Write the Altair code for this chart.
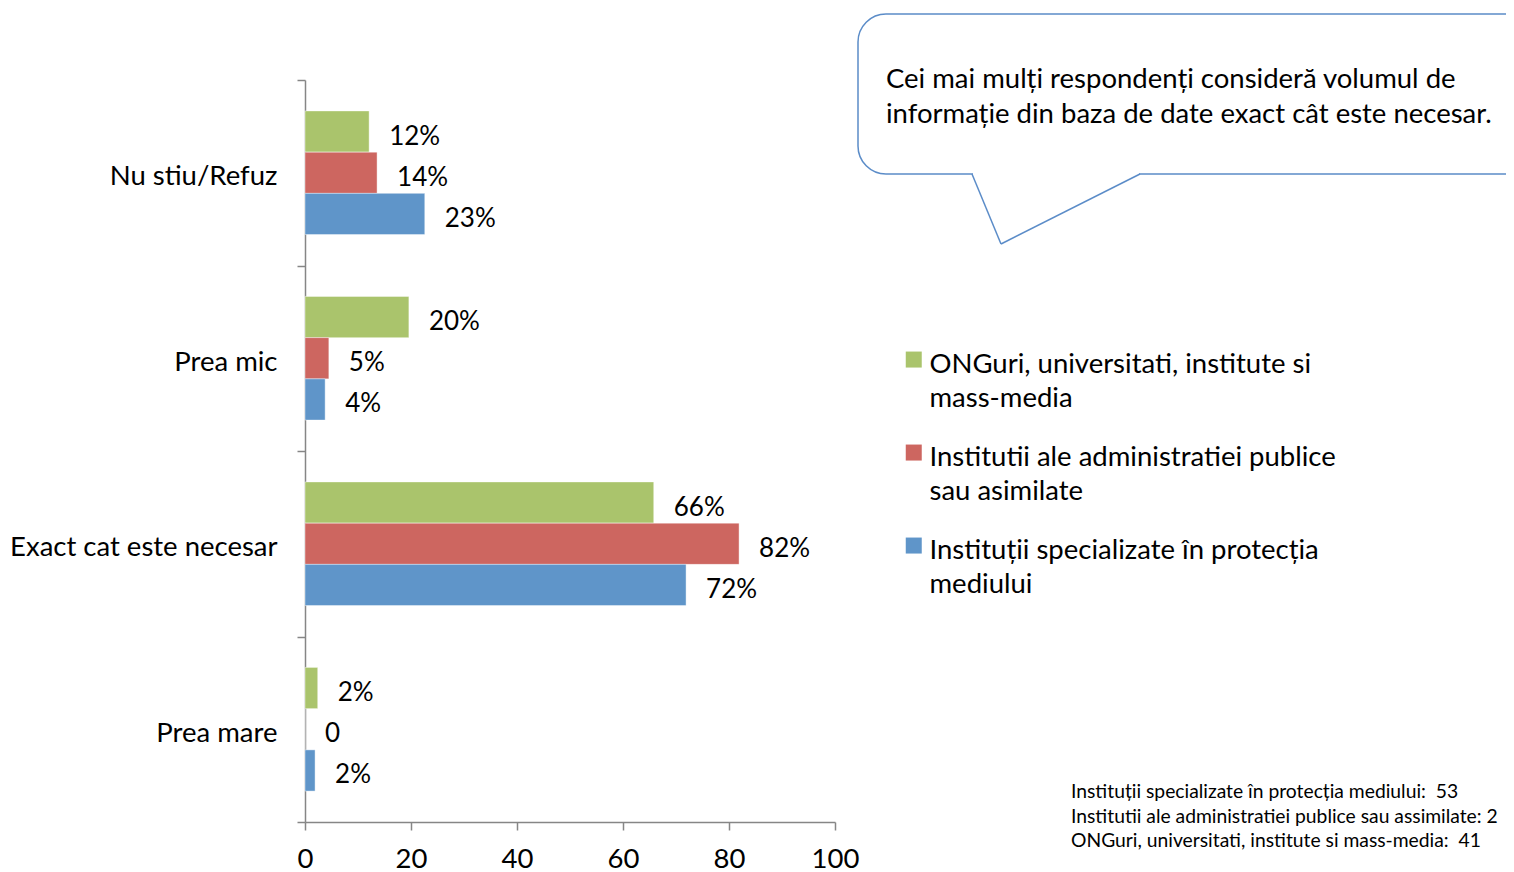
import altair as alt
import pandas as pd

categories = ["Nu stiu/Refuz", "Prea mic", "Exact cat este necesar", "Prea mare"]
series = [
    "ONGuri, universitati, institute si mass-media",
    "Institutii ale administratiei publice sau asimilate",
    "Instituții specializate în protecția mediului",
]
series_lines = [
    ["ONGuri, universitati, institute si", "mass-media"],
    ["Institutii ale administratiei publice", "sau asimilate"],
    ["Instituții specializate în protecția", "mediului"],
]
colors = ["#AAC46C", "#CD6660", "#5F95C9"]

green_vals = [12.1, 19.6, 65.8, 2.4]
red_vals = [13.6, 4.5, 81.9, 0.0]
blue_vals = [22.6, 3.8, 71.9, 1.9]
green_labels = ["12%", "20%", "66%", "2%"]
red_labels = ["14%", "5%", "82%", "0"]
blue_labels = ["23%", "4%", "72%", "2%"]

x_ticks = [0, 20, 40, 60, 80, 100]

callout_lines = [
    "Cei mai mulți respondenți consideră volumul de",
    "informație din baza de date exact cât este necesar.",
]
footnote_lines = [
    "Instituții specializate în protecția mediului:\u00a0 53",
    "Institutii ale administratiei publice sau assimilate: 2",
    "ONGuri, universitati, institute si mass-media:\u00a0 41",
]

FONT = "Lato"
BIG = 27.5
GRAY = "#868686"

rows = []
for s, vals, labs in zip(series, [green_vals, red_vals, blue_vals],
                         [green_labels, red_labels, blue_labels]):
    for c, v, l in zip(categories, vals, labs):
        rows.append({"category": c, "series": s, "value": v, "label": l})
df = pd.DataFrame(rows)

label_expr = " : ".join(
    f"datum.label == '{s}' ? {lines!r}" for s, lines in zip(series, series_lines)
) + " : datum.label"

y_enc = alt.Y("category:N", sort=categories,
              scale=alt.Scale(paddingInner=0, paddingOuter=0),
              axis=alt.Axis(title=None, tickBand="extent", labelFontSize=BIG,
                            labelColor="#000000", labelFont=FONT, labelPadding=20,
                            labelOffset=4, tickSize=8, tickColor=GRAY,
                            domainColor=GRAY, domainWidth=1.5, tickWidth=1.5,
                            labelLimit=400))
yoff = alt.YOffset("series:N", sort=series,
                   scale=alt.Scale(paddingInner=0, paddingOuter=0.75))
x_enc = alt.X("value:Q", scale=alt.Scale(domain=[0, 100], nice=False),
              axis=alt.Axis(title=None, values=x_ticks, labelFontSize=BIG,
                            labelColor="#000000", labelFont=FONT, labelPadding=15,
                            labelFlush=False, tickSize=8, tickColor=GRAY,
                            domainColor=GRAY, domainWidth=1.5, tickWidth=1.5,
                            grid=False))

bars = alt.Chart(df).mark_bar(stroke="#ffffff", strokeWidth=0.6, strokeOpacity=0.7).encode(
    x=x_enc,
    y=y_enc,
    yOffset=yoff,
    color=alt.Color("series:N", sort=series,
                    scale=alt.Scale(domain=series, range=colors),
                    legend=alt.Legend(title=None, orient="none", legendX=595, legendY=257,
                                      symbolType="M-1,0.1H1V2.1H-1Z", symbolSize=256,
                                      symbolStrokeWidth=0, labelFontSize=BIG,
                                      labelFont=FONT, labelColor="#000000",
                                      labelExpr=label_expr, labelLimit=600,
                                      labelOffset=2, labelBaseline="top",
                                      rowPadding=17)),
)

texts = alt.Chart(df).mark_text(align="left", baseline="middle", dx=20, dy=5,
                                fontSize=26, font=FONT, color="#000000").encode(
    x="value:Q",
    y=alt.Y("category:N", sort=categories),
    yOffset=yoff,
    text="label:N",
)

one = pd.DataFrame({"k": [0]})
stroke_col = "#5B8CC8"

callout_box = alt.Chart(one).mark_rect(fill="#ffffff", stroke=stroke_col, strokeWidth=1.5,
                                       cornerRadius=28).encode(
    x=alt.value(553), x2=alt.value(1240), y=alt.value(-66), y2=alt.value(94))
gap = alt.Chart(one).mark_rule(color="#ffffff", strokeWidth=4).encode(
    x=alt.value(668), x2=alt.value(834), y=alt.value(94), y2=alt.value(94))
tail1 = alt.Chart(one).mark_rule(color=stroke_col, strokeWidth=1.5).encode(
    x=alt.value(667), y=alt.value(94), x2=alt.value(696), y2=alt.value(164))
tail2 = alt.Chart(one).mark_rule(color=stroke_col, strokeWidth=1.5).encode(
    x=alt.value(696), y=alt.value(164), x2=alt.value(835), y2=alt.value(94))
callout_text = alt.Chart(one).mark_text(align="left", baseline="alphabetic",
                                        fontSize=BIG, font=FONT, color="#000000",
                                        lineHeight=35).encode(
    x=alt.value(581), y=alt.value(8), text=alt.value(callout_lines))

footnote = alt.Chart(one).mark_text(align="left", baseline="alphabetic",
                                    fontSize=19.3, font=FONT, color="#000000",
                                    lineHeight=24.5).encode(
    x=alt.value(766), y=alt.value(718), text=alt.value(footnote_lines))

chart = alt.layer(bars, texts, callout_box, gap, tail1, tail2, callout_text,
                  footnote).properties(
    width=530, height=742,
    autosize=alt.AutoSizeParams(type="none"),
    padding={"left": 297, "top": 72, "right": 671, "bottom": 50},
).configure(
    background="#ffffff",
    style={"guide-label": {"lineHeight": 34.5}},
).configure_view(stroke="transparent", strokeWidth=0)

chart.save("out.html", embed_options={"renderer": "svg", "actions": False})
